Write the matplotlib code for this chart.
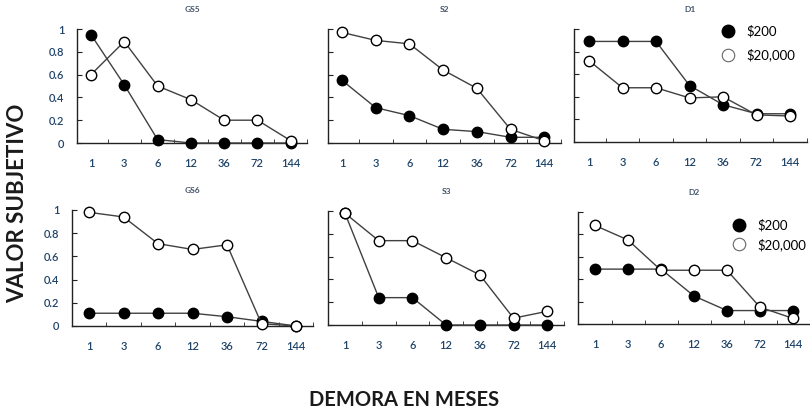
import matplotlib
matplotlib.use("Agg")
import matplotlib.pyplot as plt
from matplotlib.lines import Line2D

plt.rcParams['font.family'] = ['Lato', 'DejaVu Sans']

delays = ["1", "3", "6", "12", "36", "72", "144"]
yticks = [0, 0.2, 0.4, 0.6, 0.8, 1]
ytick_labels = ["0", "0.2", "0.4", "0.6", "0.8", "1"]

titles = ["GS5", "S2", "D1", "GS6", "S3", "D2"]

gs5_200 = [0.95, 0.51, 0.03, 0.0, 0.0, 0.0, 0.0]
gs5_20000 = [0.60, 0.89, 0.50, 0.38, 0.20, 0.20, 0.02]
s2_200 = [0.55, 0.31, 0.24, 0.12, 0.10, 0.05, 0.05]
s2_20000 = [0.97, 0.90, 0.87, 0.64, 0.48, 0.12, 0.02]
d1_200 = [0.89, 0.89, 0.89, 0.50, 0.33, 0.25, 0.25]
d1_20000 = [0.72, 0.48, 0.48, 0.39, 0.40, 0.24, 0.23]
gs6_200 = [0.11, 0.11, 0.11, 0.11, 0.08, 0.04, 0.0]
gs6_20000 = [0.98, 0.94, 0.71, 0.66, 0.70, 0.02, 0.0]
s3_200 = [0.98, 0.24, 0.24, 0.0, 0.0, 0.0, 0.0]
s3_20000 = [0.98, 0.74, 0.74, 0.59, 0.44, 0.06, 0.12]
d2_200 = [0.49, 0.49, 0.49, 0.25, 0.12, 0.12, 0.12]
d2_20000 = [0.88, 0.75, 0.48, 0.48, 0.48, 0.15, 0.05]

series_200 = [gs5_200, s2_200, d1_200, gs6_200, s3_200, d2_200]
series_20000 = [gs5_20000, s2_20000, d1_20000, gs6_20000, s3_20000, d2_20000]
legend_labels = ["$200", "$20,000"]

W, H = 810, 412
fig = plt.figure(figsize=(W / 100, H / 100), dpi=100)

# (spine x, first-category x, spacing, top y (value 1), bottom y (value 0)) in pixels
layout = [
    (77, 91, 33.3, 29, 143),
    (328, 342, 33.7, 29, 143),
    (574, 589, 33.5, 29, 142),
    (72, 89, 34.5, 210, 326),
    (328, 345, 33.7, 211, 325),
    (578, 595, 33.0, 212, 324),
]
legend_pos = {2: ((0.582, 1.08), 0.8), 5: ((0.616, 0.985), 0.5)}

tick_color = '#1F4468'
line_color = '#404040'

for i, (L, x0, s, ytop, ybot) in enumerate(layout):
    left_off = (x0 - L) / s
    width_px = (x0 - L) + 6.5 * s
    ax = fig.add_axes([L / W, 1 - ybot / H, width_px / W, (ybot - ytop) / H])
    ax.set_xlim(-left_off, 6.5)
    ax.set_ylim(0, 1)
    xs = list(range(len(delays)))
    ax.plot(xs, series_200[i], color=line_color, lw=1.0, marker='o', ms=7.5,
            mfc='black', mec='black', clip_on=False, zorder=3)
    ax.plot(xs, series_20000[i], color=line_color, lw=1.0, marker='o', ms=7.5,
            mfc='white', mec='black', mew=1.0, clip_on=False, zorder=4)
    for sp in ['top', 'right']:
        ax.spines[sp].set_visible(False)
    for sp in ['left', 'bottom']:
        ax.spines[sp].set_color('#222222')
        ax.spines[sp].set_linewidth(1.0)
    ax.set_xticks(xs)
    ax.set_xticklabels(delays, fontsize=8, color=tick_color, fontweight='semibold')
    ax.set_xticks([k + 0.5 for k in range(7)], minor=True)
    ax.tick_params(axis='x', which='major', length=0, pad=11)
    ax.tick_params(axis='x', which='minor', length=3, direction='in', color='#222222')
    ax.set_yticks(yticks)
    ax.tick_params(axis='y', length=3.5, direction='in', color='#222222', pad=9)
    if i in (0, 3):
        ax.set_yticklabels(ytick_labels, fontsize=8, color=tick_color, fontweight='semibold')
    else:
        ax.set_yticklabels([])
    ax.set_title(titles[i], fontsize=6, color='#44546A', fontweight='bold', pad=12)
    if i in legend_pos:
        anchor, spacing = legend_pos[i]
        handles = [
            Line2D([], [], ls='none', marker='o', ms=9, mfc='black', mec='black'),
            Line2D([], [], ls='none', marker='o', ms=9, mfc='white', mec='#666666', mew=0.8),
        ]
        ax.legend(handles, legend_labels, loc='upper left', frameon=False,
                  fontsize=9.5, handletextpad=0.4, labelspacing=spacing,
                  borderaxespad=0.0, bbox_to_anchor=anchor)

fig.text(18 / W, 1 - 203 / H, "VALOR SUBJETIVO", rotation=90, ha='center', va='center',
         fontsize=16, fontweight='bold', color='#1a1a1a')
fig.text(404 / W, 1 - 400 / H, "DEMORA EN MESES", ha='center', va='center',
         fontsize=14.5, fontweight='bold', color='#1a1a1a')

fig.savefig("out.png", dpi=100)
